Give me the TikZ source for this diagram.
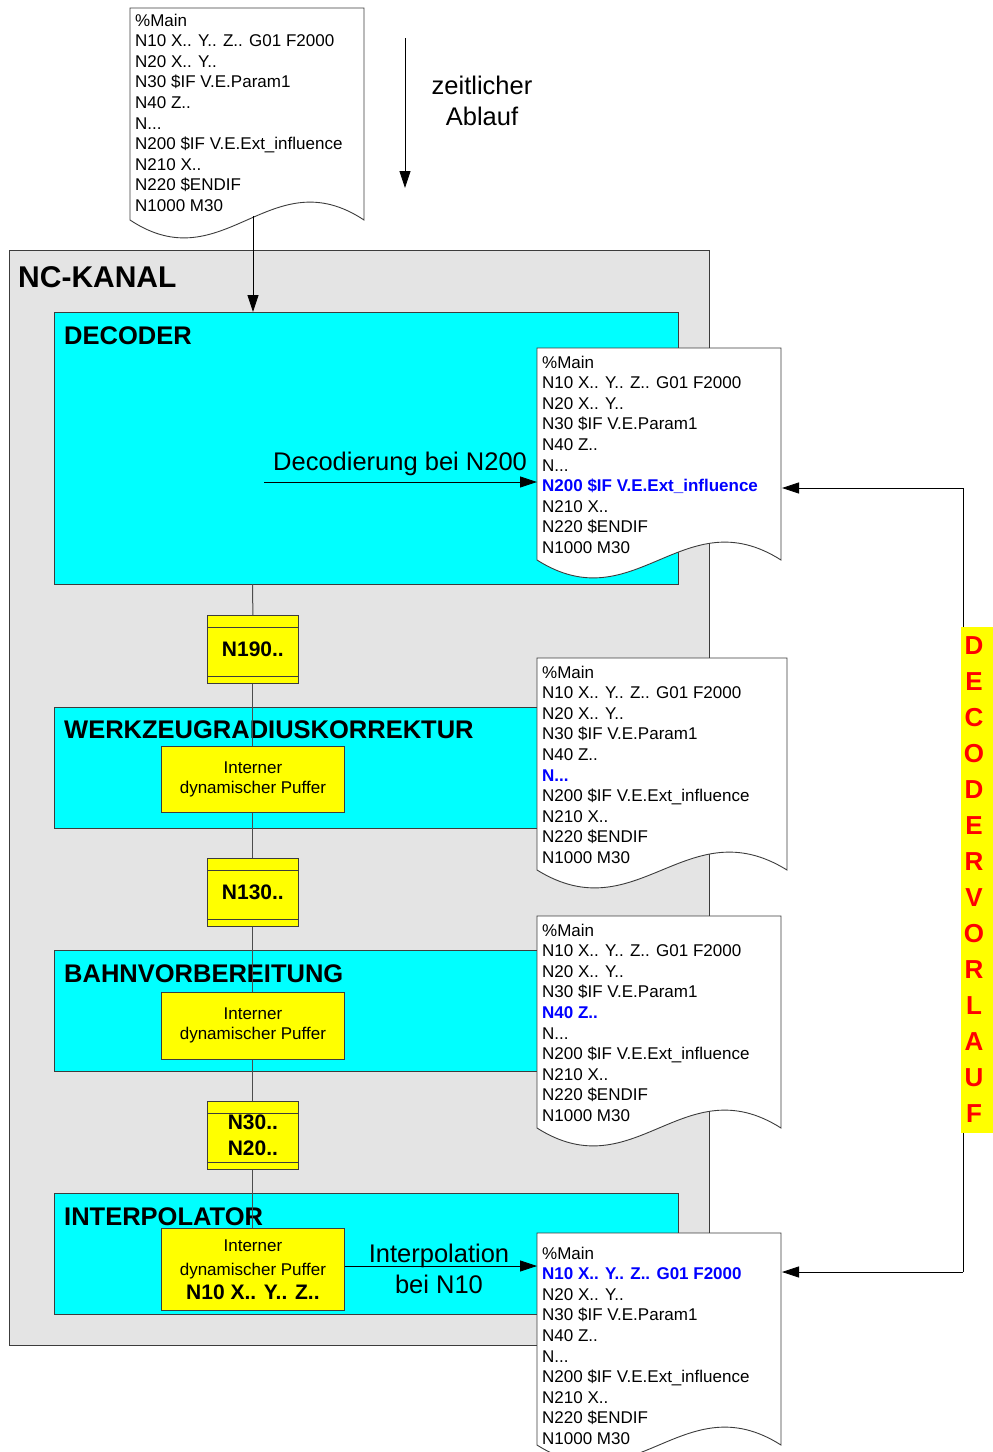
\documentclass[tikz,border=0pt]{standalone}
\usepackage{fontspec}
\setmainfont{Liberation Sans}
\usetikzlibrary{arrows.meta}
\definecolor{bggray}{RGB}{228,228,228}
\definecolor{cyanc}{RGB}{0,255,255}
\definecolor{yel}{RGB}{255,255,0}
\definecolor{hlblue}{RGB}{0,0,255}
\definecolor{redc}{RGB}{255,0,0}
\definecolor{edge}{RGB}{60,60,60}
\newcommand\docline[1]{\ifcase#1\or\%Main\or N10 X.. Y.. Z.. G01 F2000\or N20 X.. Y..\or N30 \$IF V.E.Param1\or N40 Z..\or N...\or N200 \$IF V.E.Ext\_influence\or N210 X..\or N220 \$ENDIF\or N1000 M30\fi}
\newcommand\codedoc[6]{%
  \draw[docshape] (#2,#3) -- ({#2+#4},#3) -- ({#2+#4},{#3+212})
     .. controls ({#2+0.6*#4},{#3+212-62}) and ({#2+0.4*#4},{#3+212+62}) .. (#2,{#3+212}) -- cycle;
  \foreach \i in {1,2,3,4,5,6,7,8,9,10}{%
    \node[doctext] (#1-\i) at ({#2+5},{#3+#5+6+(\i-1)*20.6}) {\ifnum\i=#6\relax\color{hlblue}\bfseries\fi\docline{\i}};
  }%
}
\begin{document}
\begin{tikzpicture}[x=1pt,y=-1pt,
  box/.style={draw=edge, line width=0.8pt, inner sep=0pt, anchor=north west},
  cyanbox/.style={box, fill=cyanc},
  yelbox/.style={box, fill=yel, align=center},
  nbox/.style={yelbox, minimum width=91pt, minimum height=68pt, font=\bfseries\fontsize{21}{26}\selectfont},
  ibox/.style={yelbox, minimum width=183pt, font=\fontsize{17}{20}\selectfont},
  title/.style={anchor=base west, inner sep=0pt, font=\bfseries\fontsize{25.5}{30}\selectfont},
  big/.style={anchor=base, inner sep=0pt, font=\fontsize{25.5}{31}\selectfont},
  doctext/.style={anchor=base west, inner sep=0pt, font=\fontsize{17}{20.6}\selectfont},
  docshape/.style={draw=edge, fill=white, line width=0.9pt},
  conn/.style={draw=black, line width=0.8pt},
  arr/.style={conn, -{Triangle[length=17pt,width=11pt]}},
  spine/.style={draw=gray!60!black, line width=1pt}]
\useasboundingbox (0,0) rectangle (993,1452);
\fill[white] (0,0) rectangle (993,1452);
% NC channel
\node[box, fill=bggray, minimum width=700pt, minimum height=1095pt] (nc) at (9,250) {};
\node[title, font=\bfseries\fontsize{30}{34}\selectfont] (nctitle) at (18,287) {NC-KANAL};
% stage boxes
\node[cyanbox, minimum width=624pt, minimum height=272pt] (dec) at (54,312) {};
\node[cyanbox, minimum width=624pt, minimum height=121pt] (wrk) at (54,707) {};
\node[cyanbox, minimum width=624pt, minimum height=121pt] (bahn) at (54,950) {};
\node[cyanbox, minimum width=624pt, minimum height=121pt] (ipo) at (54,1193) {};
\node[title] (dect) at (64,344) {DECODER};
\node[title] (wrkt) at (64,738) {WERKZEUGRADIUSKORREKTUR};
\node[title] (bahnt) at (64,982) {BAHNVORBEREITUNG};
\node[title] (ipot) at (64,1225) {INTERPOLATOR};
% spine and buffers
\coordinate (sp) at (252.5,584);
\node[nbox] (n190) at (207,615) {N190..};
\node[ibox, minimum height=66pt] (wib) at (161,746) {Interner\\dynamischer Puffer};
\node[nbox] (n130) at (207,858) {N130..};
\node[ibox, minimum height=67pt] (bib) at (161,992) {Interner\\dynamischer Puffer};
\node[nbox] (n30) at (207,1101) {N30..\\N20..};
\node[ibox, minimum height=82pt, font=\fontsize{17}{24}\selectfont] (iib) at (161,1228) {Interner\\dynamischer Puffer\\{\bfseries\fontsize{21}{24}\selectfont N10 X.. Y.. Z..}};
\draw[spine] (sp) -- (n190.north);
\draw[spine] (n190.south) -- (wib.north);
\draw[spine] (wib.south) -- (n130.north);
\draw[spine] (n130.south) -- (bib.north);
\draw[spine] (bib.south) -- (n30.north);
\draw[spine] (n30.south) -- (iib.north);
\foreach \b in {n190,n130,n30}{
  \draw[edge, line width=0.8pt] ([yshift=-12pt]\b.north west) -- ([yshift=-12pt]\b.north east);
  \draw[edge, line width=0.8pt] ([yshift=7pt]\b.south west) -- ([yshift=7pt]\b.south east);
}
% documents
\codedoc{d1}{130}{8}{234}{12}{0}
\codedoc{d2}{537}{348}{244}{14}{7}
\codedoc{d3}{537}{658}{250}{14}{6}
\codedoc{d4}{537}{916}{244}{14}{5}
\codedoc{d5}{537}{1233}{244}{20}{2}
% time arrow
\coordinate (t1) at (405,38);
\coordinate (t2) at (405,188);
\draw[arr] (t1) -- (t2);
\node[big] (zt1) at (482,94) {zeitlicher};
\node[big] (zt2) at (482,125) {Ablauf};
% program into channel
\coordinate (d1out) at (253,216);
\draw[arr] (d1out) -- (dec.north -| d1out);
% decoding
\coordinate (decstart) at (264,482);
\coordinate (d2in) at (537,482);
\draw[arr] (decstart) -- (d2in);
\node[big, anchor=base west] (dectxt) at (273,470) {Decodierung bei N200};
% interpolation
\coordinate (d5in) at (537,1266);
\draw[arr] (d5in -| iib.east) -- (d5in);
\node[big] (ipt1) at (439,1262) {Interpolation};
\node[big] (ipt2) at (439,1293) {bei N10};
% feedback
\coordinate (fbtop) at (963,488);
\coordinate (fbbot) at (963,1272);
\coordinate (d2r) at (782,488);
\coordinate (d5r) at (782,1272);
\draw[conn] (fbtop) -- (fbbot);
\draw[arr] (fbtop) -- (d2r);
\draw[arr] (fbbot) -- (d5r);
\node[fill=yel, minimum width=32pt, minimum height=506pt, inner sep=0pt] (dv) at (977,880) {};
\node[text=redc, font=\bfseries\fontsize{26}{36}\selectfont, align=center, inner sep=0pt] (dvtext) at (974,880) {D\\E\\C\\O\\D\\E\\R\\V\\O\\R\\L\\A\\U\\F};
\end{tikzpicture}
\end{document}
